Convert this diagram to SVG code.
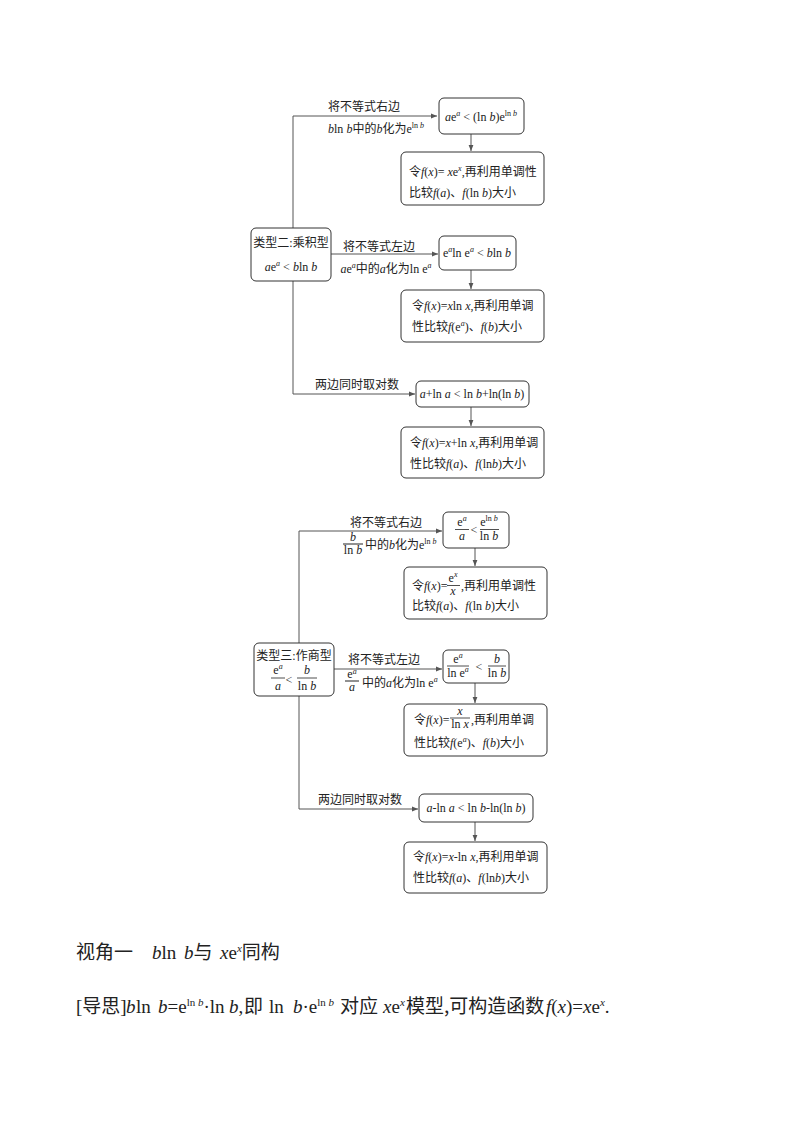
<svg xmlns="http://www.w3.org/2000/svg" width="800" height="1132" viewBox="0 0 800 1132">
<style>
.bg{fill:#fff}
.box{fill:#fff;stroke:#333;stroke-width:1}
.ln{fill:none;stroke:#555;stroke-width:1}
.t{font-family:"Liberation Serif","Noto Sans CJK SC",serif;font-size:12px;fill:#222}
.i{font-style:italic}
.s{font-size:8px}
.h{font-family:"Liberation Serif","Noto Sans CJK SC",serif;font-size:19px;fill:#222}
.c{font-family:"Noto Sans CJK SC","Liberation Sans",sans-serif}
.hs{font-size:11px}
</style>
<defs>
<marker id="ar" viewBox="0 0 10 10" refX="10" refY="5" markerWidth="6" markerHeight="6" markerUnits="userSpaceOnUse" orient="auto">
<path d="M0,1 L10,5 L0,9 Z" fill="#555"/>
</marker>
</defs>
<rect class="bg" x="0" y="0" width="800" height="1132"/>
<g id="connectors">
<path class="ln" d="M293,116 V394 H415" marker-end="url(#ar)"/>
<path class="ln" d="M293,116 H437" marker-end="url(#ar)"/>
<path class="ln" d="M331,254 H438" marker-end="url(#ar)"/>
<path class="ln" d="M471,134 V151" marker-end="url(#ar)"/>
<path class="ln" d="M471,270 V289" marker-end="url(#ar)"/>
<path class="ln" d="M471,407 V426" marker-end="url(#ar)"/>
<path class="ln" d="M299,531 V809 H418" marker-end="url(#ar)"/>
<path class="ln" d="M299,531 H442" marker-end="url(#ar)"/>
<path class="ln" d="M334,669 H442" marker-end="url(#ar)"/>
<path class="ln" d="M475,548 V566" marker-end="url(#ar)"/>
<path class="ln" d="M475,683 V703" marker-end="url(#ar)"/>
<path class="ln" d="M475,822 V841" marker-end="url(#ar)"/>
</g>
<g id="edge-labels">
<text class="t" x="364" y="111" text-anchor="middle">将不等式右边</text>
<text class="t" x="376" y="133" text-anchor="middle"><tspan class="i">b</tspan>ln <tspan class="i">b</tspan>中的<tspan class="i">b</tspan>化为e<tspan class="s" dy="-5">ln </tspan><tspan class="s i">b</tspan></text>
<text class="t" x="379" y="251" text-anchor="middle">将不等式左边</text>
<text class="t" x="386" y="273" text-anchor="middle"><tspan class="i">a</tspan>e<tspan class="s i" dy="-5">a</tspan><tspan dy="5">中的</tspan><tspan class="i">a</tspan>化为ln e<tspan class="s i" dy="-5">a</tspan></text>
<text class="t" x="315" y="389">两边同时取对数</text>
<text class="t" x="386" y="527" text-anchor="middle">将不等式右边</text>
<text class="t i" x="353" y="541" text-anchor="middle">b</text>
<line class="ln" x1="343" y1="544" x2="363" y2="544" style="stroke:#222"/>
<text class="t" x="353" y="554" text-anchor="middle">ln <tspan class="i">b</tspan></text>
<text class="t" x="365" y="549">中的<tspan class="i">b</tspan>化为e<tspan class="s" dy="-5">ln </tspan><tspan class="s i">b</tspan></text>
<text class="t" x="384" y="664" text-anchor="middle">将不等式左边</text>
<text class="t" x="352" y="678" text-anchor="middle">e<tspan class="s i" dy="-4">a</tspan></text>
<line class="ln" x1="345" y1="681" x2="359" y2="681" style="stroke:#222"/>
<text class="t i" x="352" y="691" text-anchor="middle">a</text>
<text class="t" x="362" y="687">中的<tspan class="i">a</tspan>化为ln e<tspan class="s i" dy="-5">a</tspan></text>
<text class="t" x="318" y="804">两边同时取对数</text>
</g>
<g id="n1">
<rect class="box" x="439" y="98" width="85" height="36" rx="5"/>
<text class="t" x="481" y="121" text-anchor="middle"><tspan class="i">a</tspan>e<tspan class="s i" dy="-5">a</tspan><tspan dy="5"> &lt; (ln </tspan><tspan class="i">b</tspan>)e<tspan class="s" dy="-5">ln </tspan><tspan class="s i">b</tspan></text>
</g>
<g id="n2">
<rect class="box" x="401" y="152" width="143" height="53" rx="5"/>
<text class="t" x="409" y="176">令<tspan class="i">f</tspan>(<tspan class="i">x</tspan>)= <tspan class="i">x</tspan>e<tspan class="s i" dy="-5">x</tspan><tspan dy="5">,再利用单调性</tspan></text>
<text class="t" x="409" y="197">比较<tspan class="i">f</tspan>(<tspan class="i">a</tspan>)、<tspan class="i">f</tspan>(ln <tspan class="i">b</tspan>)大小</text>
</g>
<g id="n3">
<rect class="box" x="251" y="228" width="80" height="53" rx="5"/>
<text class="t" x="291" y="247" text-anchor="middle">类型二:乘积型</text>
<text class="t" x="291" y="271" text-anchor="middle"><tspan class="i">a</tspan>e<tspan class="s i" dy="-5">a</tspan><tspan dy="5"> &lt; </tspan><tspan class="i">b</tspan>ln <tspan class="i">b</tspan></text>
</g>
<g id="n4">
<rect class="box" x="439" y="236" width="77" height="34" rx="5"/>
<text class="t" x="477" y="257" text-anchor="middle">e<tspan class="s i" dy="-5">a</tspan><tspan dy="5">ln e</tspan><tspan class="s i" dy="-5">a</tspan><tspan dy="5"> &lt; </tspan><tspan class="i">b</tspan>ln <tspan class="i">b</tspan></text>
</g>
<g id="n5">
<rect class="box" x="401" y="290" width="143" height="52" rx="5"/>
<text class="t" x="412" y="310">令<tspan class="i">f</tspan>(<tspan class="i">x</tspan>)=<tspan class="i">x</tspan>ln <tspan class="i">x</tspan>,再利用单调</text>
<text class="t" x="412" y="331">性比较<tspan class="i">f</tspan>(e<tspan class="s i" dy="-5">a</tspan><tspan dy="5">)、</tspan><tspan class="i">f</tspan>(<tspan class="i">b</tspan>)大小</text>
</g>
<g id="n6">
<rect class="box" x="416" y="381" width="113" height="26" rx="5"/>
<text class="t" x="472" y="398" text-anchor="middle"><tspan class="i">a</tspan>+ln <tspan class="i">a</tspan> &lt; ln <tspan class="i">b</tspan>+ln(ln <tspan class="i">b</tspan>)</text>
</g>
<g id="n7">
<rect class="box" x="401" y="427" width="143" height="51" rx="5"/>
<text class="t" x="410" y="447">令<tspan class="i">f</tspan>(<tspan class="i">x</tspan>)=<tspan class="i">x</tspan>+ln <tspan class="i">x</tspan>,再利用单调</text>
<text class="t" x="410" y="468">性比较<tspan class="i">f</tspan>(<tspan class="i">a</tspan>)、<tspan class="i">f</tspan>(ln<tspan class="i">b</tspan>)大小</text>
</g>
<g id="n8">
<rect class="box" x="443" y="512" width="66" height="36" rx="5"/>
<text class="t" x="462" y="526" text-anchor="middle">e<tspan class="s i" dy="-5">a</tspan></text>
<line x1="455" y1="529.5" x2="469" y2="529.5" stroke="#222" stroke-width="0.8"/>
<text class="t i" x="462" y="540" text-anchor="middle">a</text>
<text class="t" x="474" y="534" text-anchor="middle">&lt;</text>
<text class="t" x="489" y="526" text-anchor="middle">e<tspan class="s" dy="-5">ln </tspan><tspan class="s i">b</tspan></text>
<line x1="480" y1="529.5" x2="499" y2="529.5" stroke="#222" stroke-width="0.8"/>
<text class="t" x="489" y="540" text-anchor="middle">ln <tspan class="i">b</tspan></text>
</g>
<g id="n9">
<rect class="box" x="404" y="567" width="143" height="52" rx="5"/>
<text class="t" x="412" y="590">令<tspan class="i">f</tspan>(<tspan class="i">x</tspan>)=</text>
<text class="t" x="453" y="582" text-anchor="middle">e<tspan class="s i" dy="-5">x</tspan></text>
<line x1="447" y1="585.5" x2="460" y2="585.5" stroke="#222" stroke-width="0.8"/>
<text class="t i" x="453" y="595" text-anchor="middle">x</text>
<text class="t" x="461" y="590">,再利用单调性</text>
<text class="t" x="412" y="610">比较<tspan class="i">f</tspan>(<tspan class="i">a</tspan>)、<tspan class="i">f</tspan>(ln <tspan class="i">b</tspan>)大小</text>
</g>
<g id="n10">
<rect class="box" x="254" y="643" width="80" height="53" rx="5"/>
<text class="t" x="294" y="660" text-anchor="middle">类型三:作商型</text>
<text class="t" x="278" y="674" text-anchor="middle">e<tspan class="s i" dy="-5">a</tspan></text>
<line x1="271" y1="678" x2="285" y2="678" stroke="#222" stroke-width="0.8"/>
<text class="t i" x="278" y="690" text-anchor="middle">a</text>
<text class="t" x="289" y="684" text-anchor="middle">&lt;</text>
<text class="t i" x="307" y="674" text-anchor="middle">b</text>
<line x1="297" y1="678" x2="317" y2="678" stroke="#222" stroke-width="0.8"/>
<text class="t" x="307" y="690" text-anchor="middle">ln <tspan class="i">b</tspan></text>
</g>
<g id="n11">
<rect class="box" x="443" y="650" width="66" height="33" rx="5"/>
<text class="t" x="458" y="663" text-anchor="middle">e<tspan class="s i" dy="-5">a</tspan></text>
<line x1="447" y1="666" x2="469" y2="666" stroke="#222" stroke-width="0.8"/>
<text class="t" x="458" y="677" text-anchor="middle">ln e<tspan class="s i" dy="-5">a</tspan></text>
<text class="t" x="479" y="671" text-anchor="middle">&lt;</text>
<text class="t i" x="497" y="663" text-anchor="middle">b</text>
<line x1="488" y1="666" x2="506" y2="666" stroke="#222" stroke-width="0.8"/>
<text class="t" x="497" y="677" text-anchor="middle">ln <tspan class="i">b</tspan></text>
</g>
<g id="n12">
<rect class="box" x="404" y="704" width="143" height="52" rx="5"/>
<text class="t" x="414" y="724">令<tspan class="i">f</tspan>(<tspan class="i">x</tspan>)=</text>
<text class="t i" x="460" y="715" text-anchor="middle">x</text>
<line x1="450" y1="718" x2="470" y2="718" stroke="#222" stroke-width="0.8"/>
<text class="t" x="460" y="728" text-anchor="middle">ln <tspan class="i">x</tspan></text>
<text class="t" x="471" y="724">,再利用单调</text>
<text class="t" x="414" y="747">性比较<tspan class="i">f</tspan>(e<tspan class="s i" dy="-5">a</tspan><tspan dy="5">)、</tspan><tspan class="i">f</tspan>(<tspan class="i">b</tspan>)大小</text>
</g>
<g id="n13">
<rect class="box" x="419" y="794" width="114" height="28" rx="5"/>
<text class="t" x="476" y="812" text-anchor="middle"><tspan class="i">a</tspan>-ln <tspan class="i">a</tspan> &lt; ln <tspan class="i">b</tspan>-ln(ln <tspan class="i">b</tspan>)</text>
</g>
<g id="n14">
<rect class="box" x="404" y="842" width="143" height="51" rx="5"/>
<text class="t" x="413" y="861">令<tspan class="i">f</tspan>(<tspan class="i">x</tspan>)=<tspan class="i">x</tspan>-ln <tspan class="i">x</tspan>,再利用单调</text>
<text class="t" x="413" y="882">性比较<tspan class="i">f</tspan>(<tspan class="i">a</tspan>)、<tspan class="i">f</tspan>(ln<tspan class="i">b</tspan>)大小</text>
</g>
<g id="text-body">
<text class="h" x="76" y="959"><tspan class="c">视角一</tspan><tspan x="152" class="i">b</tspan>ln <tspan class="i" x="184">b</tspan><tspan class="c">与</tspan><tspan class="i" x="220">x</tspan>e<tspan class="hs i" dy="-7">x</tspan><tspan class="c" dy="7">同构</tspan></text>
<text class="h" x="76" y="1013">[<tspan class="c">导思</tspan>]<tspan class="i" x="126">b</tspan><tspan x="136">ln</tspan><tspan class="i" x="158">b</tspan>=e<tspan class="hs" dy="-7">ln </tspan><tspan class="hs i">b</tspan><tspan dy="7">·ln</tspan><tspan class="i" x="229">b</tspan>,<tspan class="c" x="244">即</tspan><tspan x="269">ln</tspan><tspan class="i" x="293">b</tspan>·e<tspan class="hs" dy="-7">ln </tspan><tspan class="hs i">b</tspan><tspan class="c" dy="7" x="340">对应</tspan><tspan class="i" x="383">x</tspan>e<tspan class="hs i" dy="-7">x</tspan><tspan class="c" dy="7" x="406">模型,可构造函数</tspan><tspan class="i" x="546">f</tspan>(<tspan class="i">x</tspan>)=<tspan class="i">x</tspan>e<tspan class="hs i" dy="-7">x</tspan><tspan dy="7">.</tspan></text>
</g>
</svg>
